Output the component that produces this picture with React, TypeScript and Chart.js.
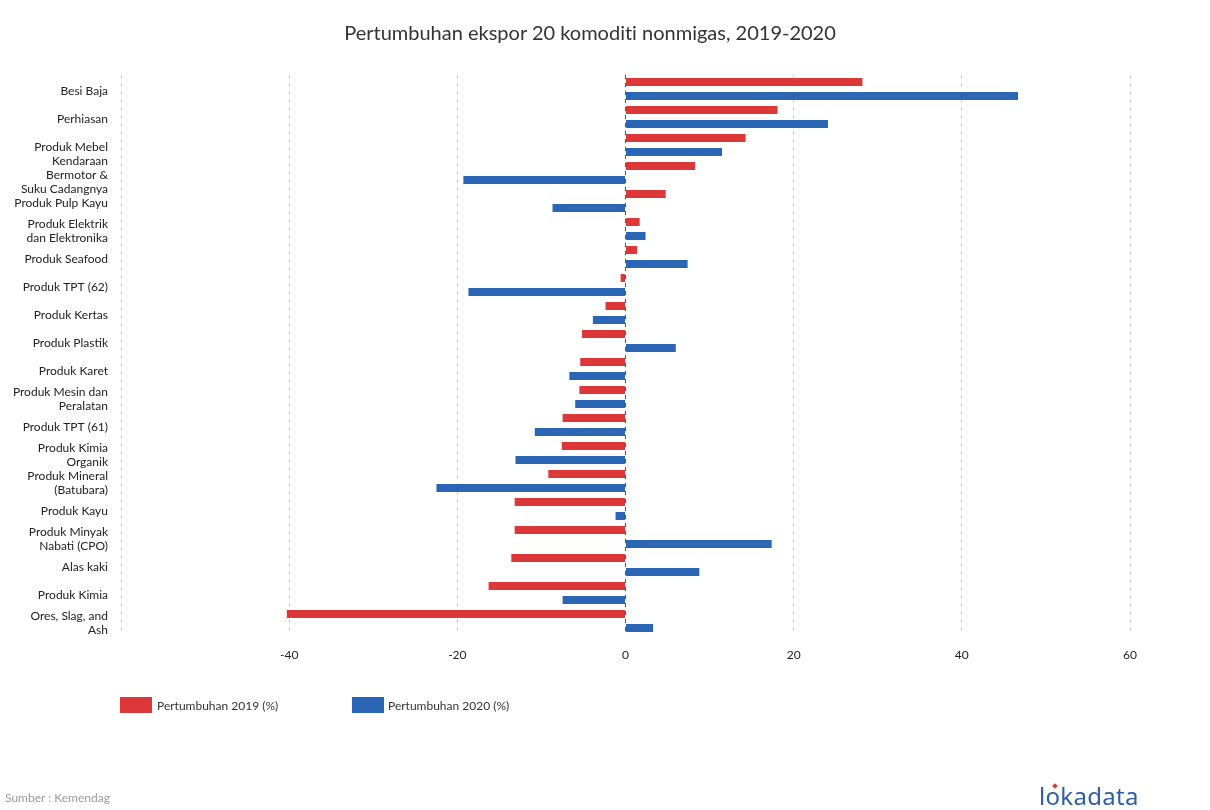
import React, { useEffect, useRef } from "react";
import { Chart, registerables } from "chart.js";

Chart.register(...registerables);

const categories: (string | string[])[] = [
  "Besi Baja",
  "Perhiasan",
  "Produk Mebel",
  ["Kendaraan", "Bermotor &", "Suku Cadangnya"],
  "Produk Pulp Kayu",
  ["Produk Elektrik", "dan Elektronika"],
  "Produk Seafood",
  "Produk TPT (62)",
  "Produk Kertas",
  "Produk Plastik",
  "Produk Karet",
  ["Produk Mesin dan", "Peralatan"],
  "Produk TPT (61)",
  ["Produk Kimia", "Organik"],
  ["Produk Mineral", "(Batubara)"],
  "Produk Kayu",
  ["Produk Minyak", "Nabati (CPO)"],
  "Alas kaki",
  "Produk Kimia",
  ["Ores, Slag, and", "Ash"],
];

const growth2019 = [
  28.3, 18.2, 14.4, 8.4, 4.9, 1.8, 1.5, -0.7, -2.5, -5.3,
  -5.5, -5.6, -7.6, -7.7, -9.3, -13.3, -13.3, -13.7, -16.4, -40.4,
];

const growth2020 = [
  46.8, 24.2, 11.6, -19.4, -8.8, 2.5, 7.5, -18.8, -4.0, 6.1,
  -6.8, -6.1, -10.9, -13.2, -22.6, -1.3, 17.5, 8.9, -7.6, 3.4,
];

const seriesNames = ["Pertumbuhan 2019 (%)", "Pertumbuhan 2020 (%)"];
const seriesColors = ["#dc3739", "#2b66b4"];
const xTickValues = [-60, -40, -20, 0, 20, 40, 60];

const FONT = "Lato, 'Open Sans', sans-serif";

export default function App() {
  const canvasRef = useRef<HTMLCanvasElement | null>(null);

  useEffect(() => {
    if (!canvasRef.current) return;
    const chart = new Chart(canvasRef.current, {
      type: "bar",
      data: {
        labels: categories,
        datasets: [
          {
            label: seriesNames[0],
            data: growth2019,
            backgroundColor: seriesColors[0],
            borderColor: "rgba(255,255,255,0.35)",
            borderWidth: 1,
            categoryPercentage: 1,
            barPercentage: 0.714,
          },
          {
            label: seriesNames[1],
            data: growth2020,
            backgroundColor: seriesColors[1],
            borderColor: "rgba(255,255,255,0.35)",
            borderWidth: 1,
            categoryPercentage: 1,
            barPercentage: 0.714,
          },
        ],
      },
      options: {
        indexAxis: "y",
        responsive: false,
        animation: false,
        devicePixelRatio: 1,
        layout: { padding: { top: 75, right: 80, left: 0, bottom: 0 } },
        plugins: {
          legend: { display: false },
          title: { display: false },
          tooltip: { enabled: false },
        },
        scales: {
          x: {
            type: "linear",
            min: -60,
            max: 60,
            afterBuildTicks: (scale: any) => {
              scale.ticks = xTickValues.map((v) => ({ value: v }));
            },
            afterFit: (scale: any) => {
              scale.height = 175;
            },
            border: { display: false, dash: [4, 4] },
            grid: {
              drawTicks: false,
              color: (ctx: any) => (ctx.tick && ctx.tick.value === 0 ? "#555" : "#cfcfcf"),
              lineWidth: 1,
            },
            ticks: {
              padding: 13,
              color: "#222",
              font: { family: FONT, size: 12 },
              callback: (v: any) => (Number(v) === -60 ? "" : String(v)),
            },
          },
          y: {
            afterFit: (scale: any) => {
              scale.width = 121;
            },
            border: { display: false },
            grid: { display: false, drawTicks: false },
            ticks: {
              padding: 13,
              labelOffset: 2,
              color: "#222",
              autoSkip: false,
              font: { family: FONT, size: 12, lineHeight: 14 / 12 },
            },
          },
        },
      },
    } as any);
    return () => chart.destroy();
  }, []);

  const legendText: React.CSSProperties = {
    position: "absolute",
    fontFamily: FONT,
    fontSize: 12,
    color: "#333",
    top: 698,
    lineHeight: "15px",
  };

  return (
    <div style={{ position: "absolute", left: 0, top: 0, width: 1210, height: 810, background: "#fff" }}>
      <canvas ref={canvasRef} width={1210} height={810} style={{ position: "absolute", left: 0, top: 0 }} />
      <div
        style={{
          position: "absolute",
          left: 0,
          width: 1180,
          top: 19,
          textAlign: "center",
          fontFamily: FONT,
          fontSize: 20,
          color: "#333",
          lineHeight: "26px",
          fontVariantLigatures: "none",
        }}
      >
        Pertumbuhan ekspor 20 komoditi nonmigas, 2019-2020
      </div>
      <div style={{ position: "absolute", left: 120, top: 697, width: 32, height: 16, background: seriesColors[0] }} />
      <div style={{ ...legendText, left: 157 }}>{seriesNames[0]}</div>
      <div style={{ position: "absolute", left: 352, top: 697, width: 32, height: 16, background: seriesColors[1] }} />
      <div style={{ ...legendText, left: 388 }}>{seriesNames[1]}</div>
      <div
        style={{
          position: "absolute",
          left: 5,
          top: 790,
          fontFamily: FONT,
          fontSize: 12,
          color: "#9a9a9a",
          lineHeight: "15px",
        }}
      >
        Sumber : Kemendag
      </div>
      <div
        style={{
          position: "absolute",
          left: 1039,
          top: 782,
          fontFamily: "'Noto Sans', Lato, sans-serif",
          fontSize: 24,
          color: "#2d5ea8",
          lineHeight: "28px",
          letterSpacing: "0.3px",
        }}
      >
        l<span style={{ position: "relative" }}>o<span style={{ position: "absolute", left: 7, top: 5, width: 4, height: 4, background: "#e0393c", transform: "rotate(45deg)" }} /></span>kadata
      </div>
    </div>
  );
}
